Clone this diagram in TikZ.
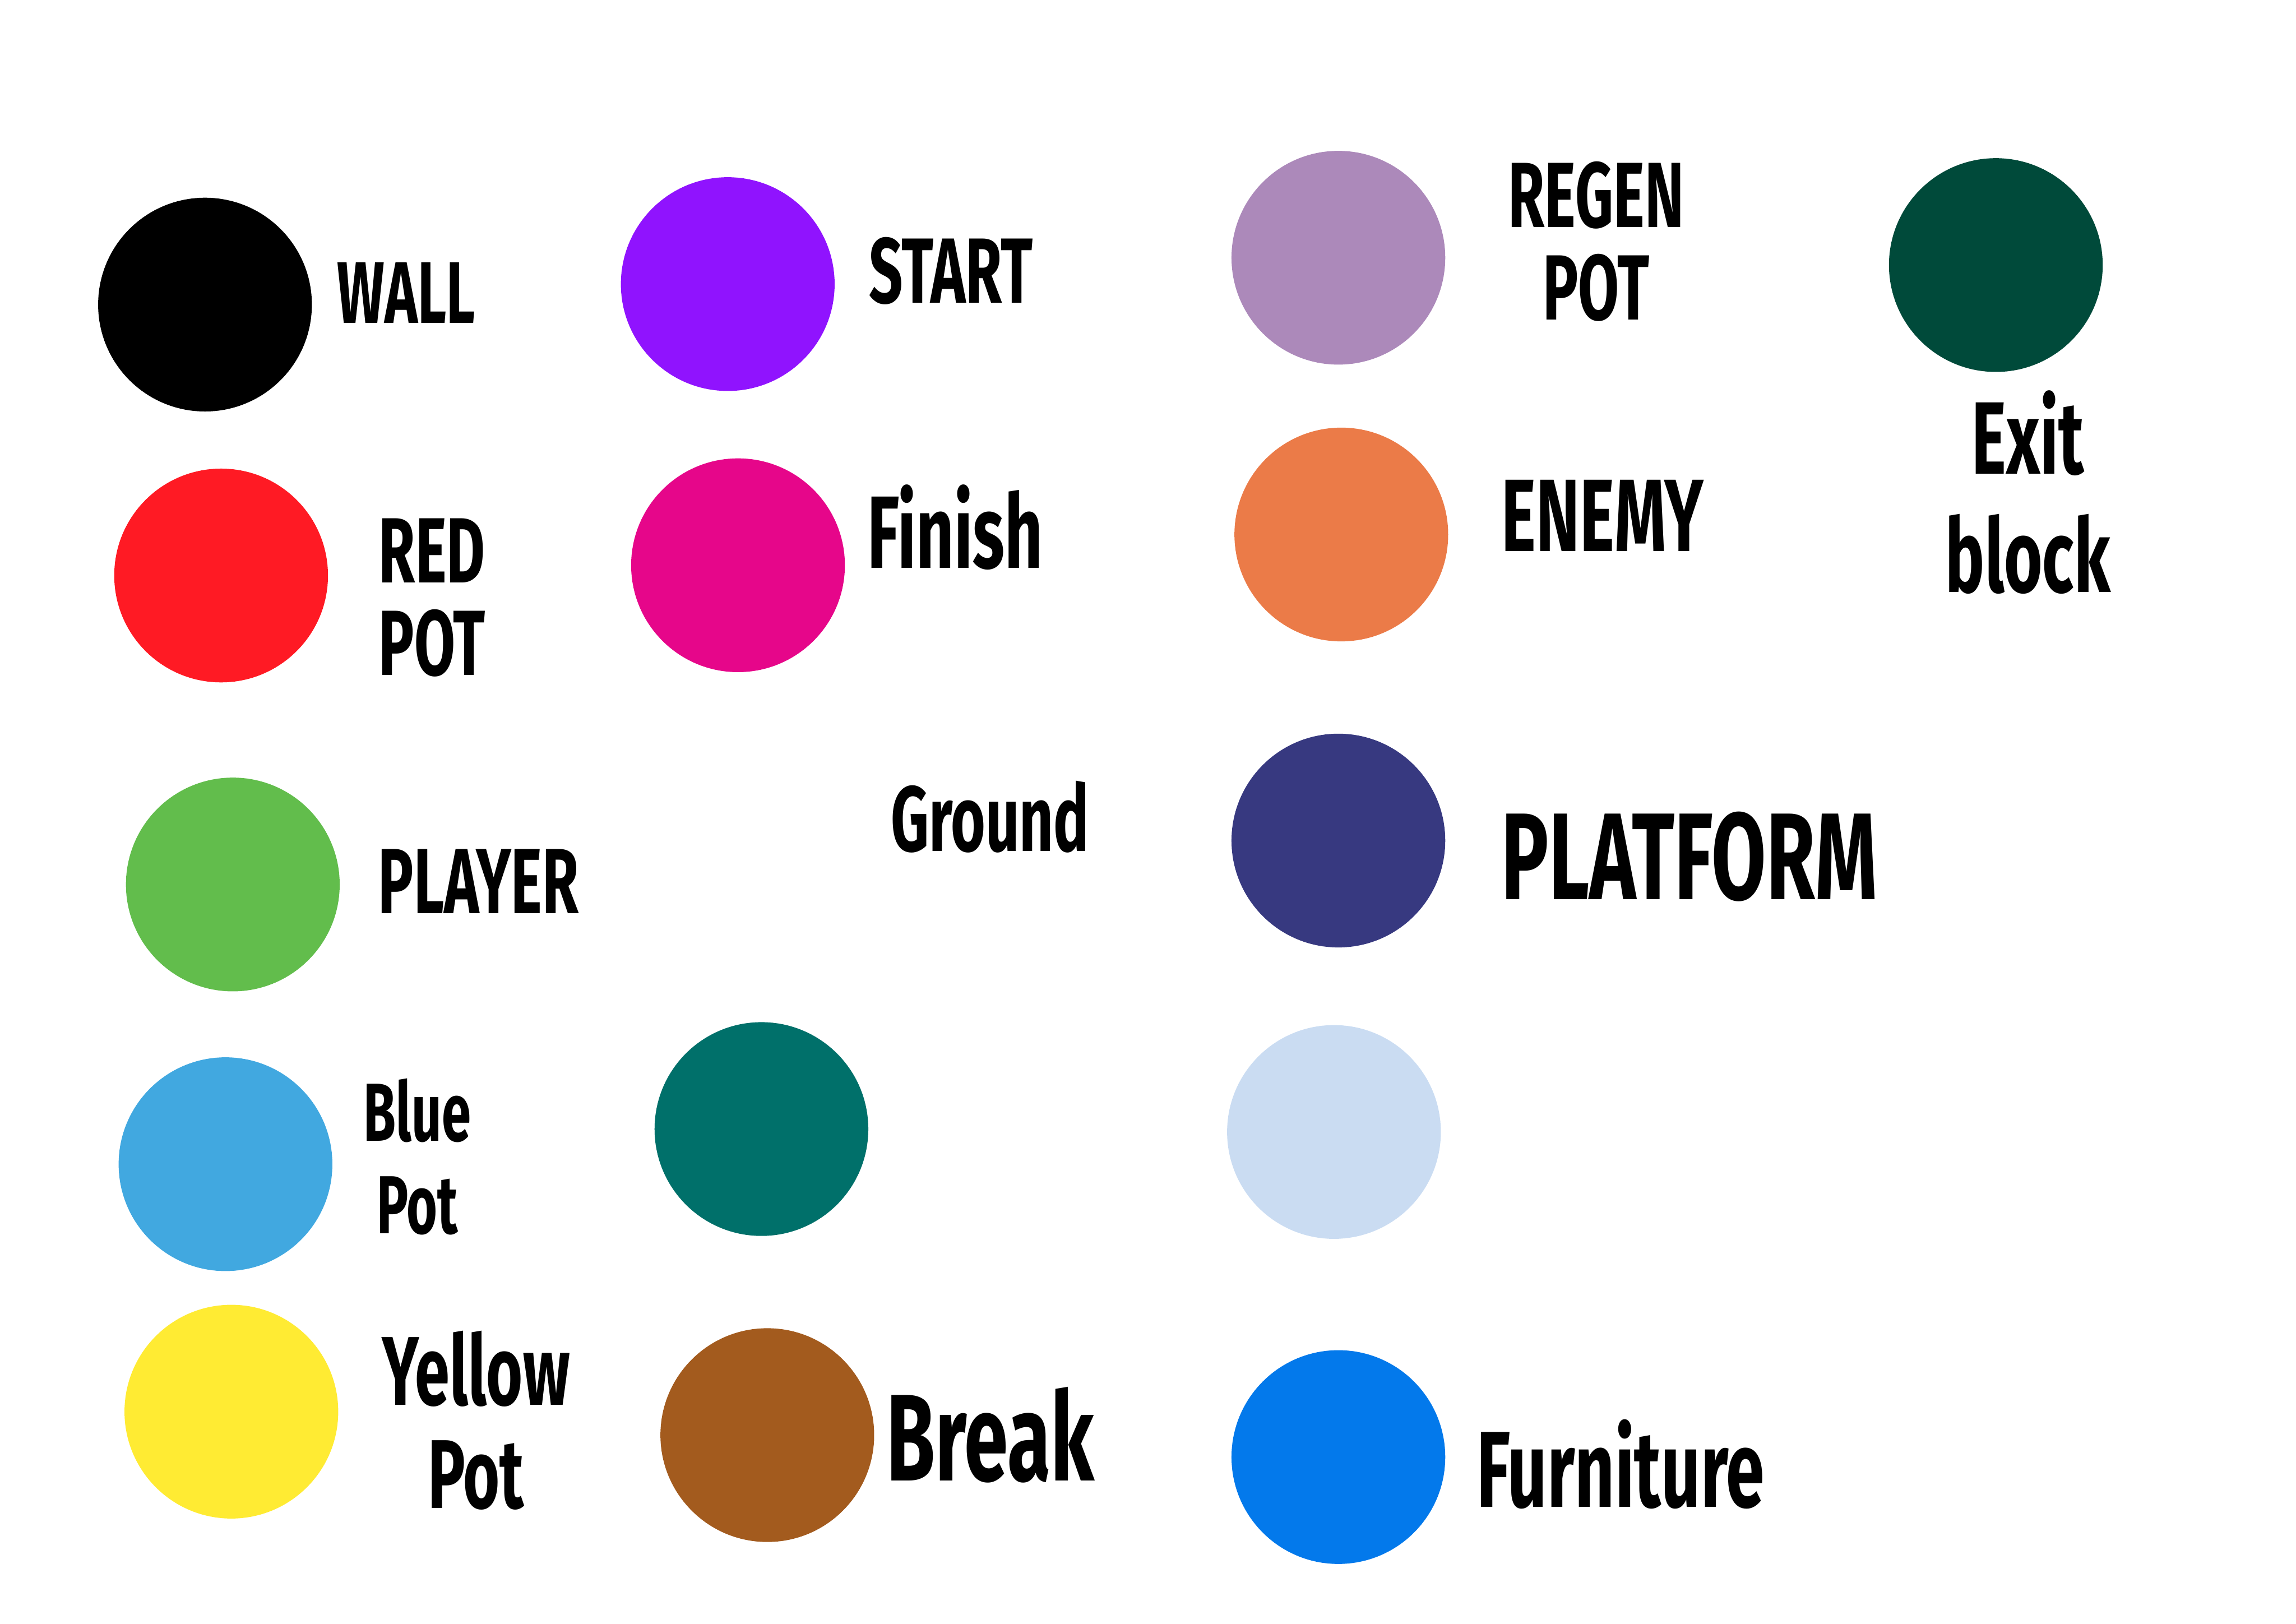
\documentclass[tikz,border=0pt]{standalone}
\usepackage{fontspec}
\newfontfamily\hand[FakeStretch=0.64]{Fira Sans}
\definecolor{cwall}{HTML}{000000}
\definecolor{cstart}{HTML}{9013FE}
\definecolor{cregen}{HTML}{AC89BA}
\definecolor{cexit}{HTML}{004A3A}
\definecolor{cred}{HTML}{FF1A24}
\definecolor{cfinish}{HTML}{E6068A}
\definecolor{cenemy}{HTML}{EB7B48}
\definecolor{cplayer}{HTML}{62BD4C}
\definecolor{cplatform}{HTML}{373980}
\definecolor{cblue}{HTML}{41A8E0}
\definecolor{cground}{HTML}{00706A}
\definecolor{cpale}{HTML}{CADCF2}
\definecolor{cyellow}{HTML}{FFEB33}
\definecolor{cbreak}{HTML}{A35B1E}
\definecolor{cfurn}{HTML}{0379EB}
\begin{document}
\begin{tikzpicture}[x=0.02cm, y=-0.02cm,
		dot/.style={circle, inner sep=0pt, minimum size=2.92cm},
		tag/.style={anchor=west, inner sep=0pt, align=center, font=\hand\bfseries\fontsize{36}{36}\selectfont}]
			\useasboundingbox (0,0) rectangle (1568,1109);
			% colour swatches
			\node[dot, fill=cwall] (wall) at (140,208) {};
			\node[dot, fill=cstart] (start) at (497,194) {};
			\node[dot, fill=cregen] (regen) at (914,176) {};
			\node[dot, fill=cexit] (exit) at (1363,181) {};
			\node[dot, fill=cred] (redpot) at (151,393) {};
			\node[dot, fill=cfinish] (finish) at (504,386) {};
			\node[dot, fill=cenemy] (enemy) at (916,365) {};
			\node[dot, fill=cplayer] (player) at (159,604) {};
			\node[dot, fill=cplatform] (platform) at (914,574) {};
			\node[dot, fill=cblue] (bluepot) at (154,795) {};
			\node[dot, fill=cground] (ground) at (520,771) {};
			\node[dot, fill=cpale] (pale) at (911,773) {};
			\node[dot, fill=cyellow] (yellowpot) at (158,964) {};
			\node[dot, fill=cbreak] (break) at (524,980) {};
			\node[dot, fill=cfurn] (furniture) at (914,995) {};
			% labels
			\node[tag, font=\hand\bfseries\fontsize{34}{34}\selectfont] (wallt) at (230,200) {WALL};
			\node[tag] (startt) at (593,185) {START};
			\node[tag, anchor=center] (regent) at (1090,165) {REGEN\\POT};
			\node[tag, anchor=center, font=\hand\bfseries\fontsize{40}{46}\selectfont] (exitt) at (1385,336) {Exit\\block};
			\node[tag, anchor=center] (redpott) at (295,408) {RED\\POT};
			\node[tag, font=\hand\bfseries\fontsize{40}{40}\selectfont] (finisht) at (592,360) {Finish};
			\node[tag, font=\hand\bfseries\fontsize{40}{40}\selectfont] (enemyt) at (1025,352) {ENEMY};
			\node[tag] (playert) at (258,602) {PLAYER};
			\node[tag, font=\hand\bfseries\fontsize{36}{36}\selectfont] (groundt) at (608,558) {Ground};
			\node[tag, font=\hand\bfseries\fontsize{48}{48}\selectfont] (platformt) at (1025,585) {PLATFORM};
			\node[tag, anchor=center, font=\hand\bfseries\fontsize{32}{36}\selectfont] (bluepott) at (285,790) {Blue\\Pot};
			\node[tag, anchor=center, font=\hand\bfseries\fontsize{38}{40}\selectfont] (yellowpott) at (325,970) {Yellow\\Pot};
			\node[tag, font=\hand\bfseries\fontsize{48}{48}\selectfont] (breakt) at (605,980) {Break};
			\node[tag, font=\hand\bfseries\fontsize{42}{42}\selectfont] (furnituret) at (1008,1000) {Furniture};
		\end{tikzpicture}
\end{document}
